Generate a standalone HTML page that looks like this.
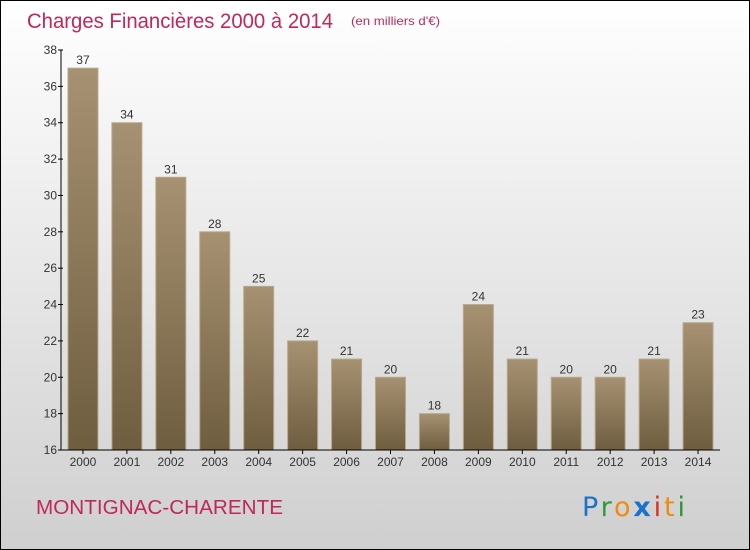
<!DOCTYPE html>
<html><head><meta charset="utf-8"><style>
body{margin:0;}
svg{display:block;font-family:"Liberation Sans",sans-serif;}
</style></head><body>
<svg id="c" width="750" height="550">
<defs>
<linearGradient id="bg" x1="0" y1="0" x2="0" y2="1"><stop offset="0" stop-color="#ffffff"/><stop offset="1" stop-color="#cfcfcf"/></linearGradient>
<linearGradient id="bar" x1="0" y1="0" x2="0" y2="1"><stop offset="0" stop-color="#a69272"/><stop offset="1" stop-color="#6f5d40"/></linearGradient>
</defs>
<rect x="0.5" y="0.5" width="749" height="549" fill="url(#bg)" stroke="#000"/>
<text x="27" y="28" font-size="21" fill="#c0285a" textLength="306" lengthAdjust="spacingAndGlyphs">Charges Financières 2000 à 2014</text>
<text x="351" y="25" font-size="12" fill="#c0285a" textLength="89" lengthAdjust="spacingAndGlyphs">(en milliers d'€)</text>
<text x="36" y="514" font-size="20" fill="#c0285a" textLength="247" lengthAdjust="spacingAndGlyphs">MONTIGNAC-CHARENTE</text>
<g font-size="27" font-family="'DejaVu Sans',sans-serif">
<text x="582" y="516" textLength="103" lengthAdjust="spacing"><tspan fill="#1a73c9">P</tspan><tspan fill="#2a9a3a">r</tspan><tspan fill="#f08a10">o</tspan><tspan fill="#1a73c9" font-weight="bold">x</tspan><tspan fill="#e03020">i</tspan><tspan fill="#f08a10">t</tspan><tspan fill="#2a9a3a">i</tspan></text>
</g>
<g id="plot"></g>
</svg>
<script>
const categories=["2000","2001","2002","2003","2004","2005","2006","2007","2008","2009","2010","2011","2012","2013","2014"];
const values=[37,34,31,28,25,22,21,20,18,24,21,20,20,21,23];
const yTicks=[16,18,20,22,24,26,28,30,32,34,36,38];
const NS="http://www.w3.org/2000/svg";
const g=document.getElementById('plot');
const x0=61,x1=720,yTop=50,yBot=450,yMin=16,yMax=38;
const y=v=>yBot-(v-yMin)/(yMax-yMin)*(yBot-yTop);
const bw=(x1-x0)/categories.length;
const xc=i=>x0+bw*(i+0.5);
function el(t,a){const e=document.createElementNS(NS,t);for(const k in a)e.setAttribute(k,a[k]);g.appendChild(e);return e;}
values.forEach((v,i)=>{
 const r=el('rect',{x:xc(i)-15,y:y(v),width:30,height:yBot-y(v),fill:'url(#bar)',stroke:'#b8a88a','stroke-width':1});
 
 
 const t=el('text',{x:xc(i),y:y(v)-4,'text-anchor':'middle','font-size':12,fill:'#333'});
 t.textContent=v;
 
 
 const c=el('text',{x:xc(i),y:466,'text-anchor':'middle','font-size':12,fill:'#333'});
 c.textContent=categories[i];
 
 
 const tk=el('line',{x1:xc(i),x2:xc(i),y1:yBot,y2:yBot+4,stroke:'#000'});
 
 
});
yTicks.forEach(v=>{
 const l=el('line',{x1:x0-3,x2:x0+2,y1:y(v),y2:y(v),stroke:'#000'});
 
 
 const t=el('text',{x:x0-4,y:y(v)+4,'text-anchor':'end','font-size':12,fill:'#333'});
 t.textContent=v;
 
 
});
const ya=el('line',{x1:x0,x2:x0,y1:yTop,y2:yBot,stroke:'#000'});


const xa=el('line',{x1:x0,x2:x1,y1:yBot,y2:yBot,stroke:'#000'});


</script>
</body></html>
